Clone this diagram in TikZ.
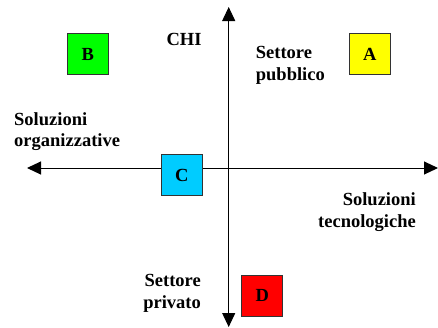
\documentclass[tikz,border=0pt]{standalone}
\usepackage{fontspec}
\setmainfont{Liberation Serif}
\usetikzlibrary{arrows.meta}

\begin{document}
\begin{tikzpicture}[x=1pt, y=-1pt,
  quadbox/.style={draw=black!80, line width=1pt, minimum size=40.7pt, inner sep=0pt, font=\fontsize{18.5}{21.7}\selectfont\bfseries},
  lbl/.style={inner sep=0pt, font=\fontsize{18.5}{21.7}\selectfont\bfseries},
  axis/.style={line width=1pt, -{Triangle[length=14pt, width=13pt]}}]
\useasboundingbox (0,0) rectangle (438,327);
% axes
\coordinate (origin) at (228.7,168);
\coordinate (top) at (228.7,7);
\coordinate (bottom) at (228.7,327);
\coordinate (left) at (27,168);
\coordinate (right) at (438,168);
\draw[axis] (origin) -- (top);
\draw[axis] (origin) -- (bottom);
\draw[axis] (origin) -- (left);
\draw[axis] (origin) -- (right);
% quadrants
\node[quadbox, fill={rgb,255:red,255;green,255;blue,0}] (boxA) at (369.7,54.3) {A};
\node[quadbox, fill={rgb,255:red,0;green,255;blue,0}] (boxB) at (87.7,54.3) {B};
\node[quadbox, fill={rgb,255:red,0;green,204;blue,255}] (boxC) at (181.7,175) {C};
\node[quadbox, fill={rgb,255:red,255;green,0;blue,0}] (boxD) at (262.3,295.7) {D};
% labels (base anchor sits on the last line)
\node[lbl, anchor=base] (chi) at (184,45) {CHI};
\node[lbl, anchor=base west, align=left] (pubblico) at (255.7,80) {Settore\\pubblico};
\node[lbl, anchor=base west, align=left] (organiz) at (14,146.7) {Soluzioni\\organizzative};
\node[lbl, anchor=base east, align=right] (tecno) at (416,227.4) {Soluzioni\\tecnologiche};
\node[lbl, anchor=base east, align=right] (privato) at (201,308.4) {Settore\\privato};
\end{tikzpicture}
\end{document}
